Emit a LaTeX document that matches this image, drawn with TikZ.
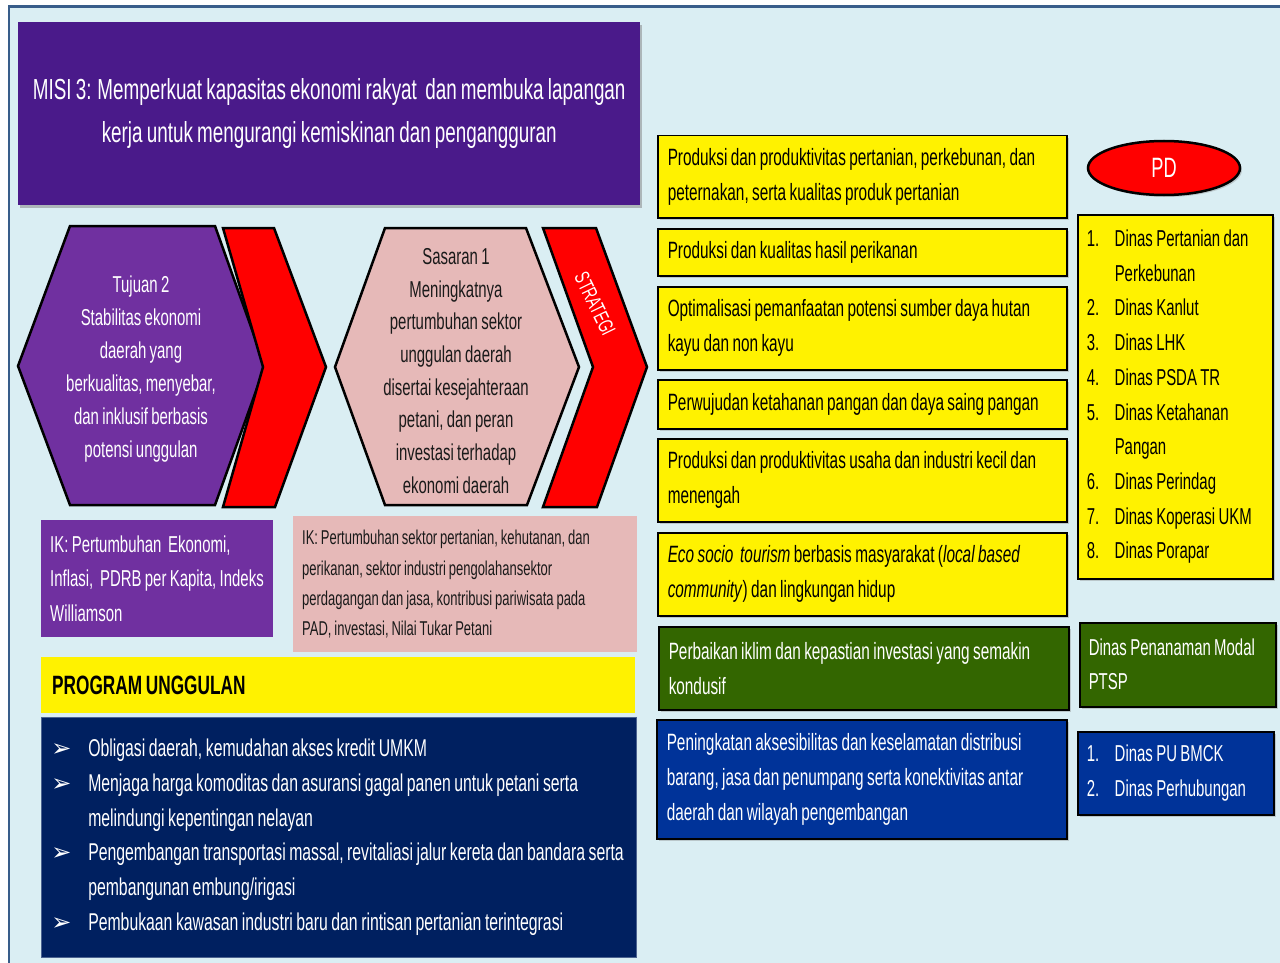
\documentclass[tikz,border=0pt]{standalone}
\usepackage{fontspec}
\setmainfont{Liberation Sans}[FakeStretch=0.65,WordSpace=0.8]
\newfontfamily\dejavu{DejaVu Sans}
\usetikzlibrary{shapes.geometric,shadows}
\definecolor{bgc}{HTML}{DAEEF3}
\definecolor{framec}{HTML}{385D8A}
\definecolor{titlec}{HTML}{4A1A8A}
\definecolor{tujuanc}{HTML}{7030A0}
\definecolor{pinkc}{HTML}{E6B9B8}
\definecolor{navyc}{HTML}{002060}
\definecolor{greenc}{HTML}{336600}
\definecolor{bluec}{HTML}{003399}
\definecolor{darktext}{HTML}{1A1A1A}
\newcommand\bul{\makebox[37pt][l]{\dejavu\fontsize{24}{24}\selectfont ➢}}
\newcommand\ind{\hspace*{37pt}}
\newcommand\num[1]{\makebox[28pt][l]{#1}}
\newcommand\nind{\hspace*{28pt}}
\begin{document}
\begin{tikzpicture}[x=1pt,y=-1pt,
  shape line/.style={draw=black,line width=2.5pt,line join=miter},
  boxsh/.style={drop shadow={opacity=0.35,shadow xshift=2pt,shadow yshift=-2pt}},
  strbox/.style={draw=black,line width=1.5pt,anchor=north west,align=flush left,inner xsep=10pt,inner ysep=0pt,boxsh},
  ybox/.style={strbox,fill=yellow,text=black},
  yfont/.style={font=\fontsize{23.6}{35}\selectfont},
  plain box/.style={anchor=north west,align=flush left,inner ysep=0pt}
]
\useasboundingbox (0,0) rectangle (1280,963);
\fill[white] (0,0) rectangle (1280,963);
\fill[bgc] (8,7) rectangle (1280,963);
\draw[framec,line width=3pt] (8,7) -- (1280,7);
\draw[framec,line width=1.5pt] (9,7) -- (9,963);

% title
\node[anchor=north west,fill=titlec,minimum width=622pt,minimum height=183pt,
  drop shadow={opacity=0.5,shadow xshift=2pt,shadow yshift=-3pt},
  text=white,align=center,font=\fontsize{29}{43}\selectfont] (title) at (18,22)
  {MISI 3: Memperkuat kapasitas ekonomi rakyat~ dan membuka lapangan\\kerja untuk mengurangi kemiskinan dan pengangguran};

% hexagons and chevrons
\draw[shape line,fill=tujuanc] (70,226) -- (215,226) -- (265,366) -- (215,505) -- (70,505) -- (18,366) -- cycle;
\draw[shape line,fill=red] (223,228) -- (274,228) -- (326,367) -- (275,507) -- (223,507) -- (263,367) -- cycle;
\draw[shape line,fill=pinkc] (385,228) -- (526,228) -- (579,367) -- (527,505) -- (385,505) -- (335,367) -- cycle;
\draw[shape line,fill=red] (543,228) -- (596,228) -- (647,367) -- (597,507) -- (543,507) -- (593,367) -- cycle;

\node[text=white,align=center,font=\fontsize{23}{33}\selectfont] (tujuan) at (141,369)
  {Tujuan 2\\Stabilitas ekonomi\\daerah yang\\berkualitas, menyebar,\\dan inklusif berbasis\\potensi unggulan};
\node[text=darktext,align=center,font=\fontsize{23}{32.7}\selectfont] (sasaran) at (456,371)
  {Sasaran 1\\Meningkatnya\\pertumbuhan sektor\\unggulan daerah\\disertai kesejahteraan\\petani, dan peran\\investasi terhadap\\ekonomi daerah};
\node[rotate=-64,text=white,inner sep=0pt,font=\fontsize{21}{21}\selectfont] (strategi) at (595,304) {STRATEGI};

% IK boxes
\node[plain box,fill=tujuanc,minimum width=232pt,minimum height=117pt,text width=214pt,inner xsep=9pt,
  text=white,font=\fontsize{23}{34.5}\selectfont] (ik1) at (41,520)
  {IK: Pertumbuhan~ Ekonomi,\\Inflasi,~ PDRB per Kapita, Indeks\\Williamson};
\node[plain box,fill=pinkc,minimum width=344pt,minimum height=136pt,text width=326pt,inner xsep=9pt,
  text=darktext,font=\fontsize{20}{30.3}\selectfont] (ik2) at (293,516)
  {IK: Pertumbuhan sektor pertanian, kehutanan, dan\\perikanan, sektor industri pengolahansektor\\perdagangan dan jasa, kontribusi pariwisata pada\\PAD, investasi, Nilai Tukar Petani};

% program unggulan
\node[plain box,fill=yellow,minimum width=594pt,minimum height=56pt,text width=572pt,inner xsep=11pt,
  text=black,font=\bfseries\fontsize{26.5}{28}\selectfont] (prog) at (41,657) {PROGRAM UNGGULAN};
\node[plain box,fill=navyc,draw=navyc!70!white,line width=0.5pt,minimum width=594pt,minimum height=240pt,text width=575pt,inner xsep=10pt,
  text=white,font=\fontsize{24.3}{34.8}\selectfont] (proglist) at (41,717)
  {\bul Obligasi daerah, kemudahan akses kredit UMKM\\
   \bul Menjaga harga komoditas dan asuransi gagal panen untuk petani serta\\
   \ind melindungi kepentingan nelayan\\
   \bul Pengembangan transportasi massal, revitaliasi jalur kereta dan bandara serta\\
   \ind pembangunan embung/irigasi\\
   \bul Pembukaan kawasan industri baru dan rintisan pertanian terintegrasi};

% strategy boxes
\node[ybox,yfont,minimum width=409pt,minimum height=82pt,text width=389pt] (s1) at (657,135)
  {Produksi dan produktivitas pertanian, perkebunan, dan\\peternakan, serta kualitas produk pertanian};
\node[ybox,yfont,minimum width=409pt,minimum height=47pt,text width=389pt] (s2) at (657,228)
  {Produksi dan kualitas hasil perikanan};
\node[ybox,yfont,minimum width=409pt,minimum height=83pt,text width=389pt] (s3) at (657,286)
  {Optimalisasi pemanfaatan potensi sumber daya hutan\\kayu dan non kayu};
\node[ybox,yfont,minimum width=409pt,minimum height=49pt,text width=389pt] (s4) at (657,379)
  {Perwujudan ketahanan pangan dan daya saing pangan};
\node[ybox,yfont,minimum width=409pt,minimum height=83pt,text width=389pt] (s5) at (657,438)
  {Produksi dan produktivitas usaha dan industri kecil dan\\menengah};
\node[ybox,yfont,minimum width=409pt,minimum height=83pt,text width=389pt] (s6) at (657,532)
  {\textit{Eco socio~ tourism} berbasis masyarakat (\textit{local based\\community}) dan lingkungan hidup};
\node[strbox,fill=greenc,text=white,yfont,minimum width=410pt,minimum height=83pt,text width=390pt] (s7) at (658,626)
  {Perbaikan iklim dan kepastian investasi yang semakin\\kondusif};
\node[strbox,fill=bluec,text=white,yfont,minimum width=410pt,minimum height=119pt,text width=390pt] (s8) at (656,719)
  {Peningkatan aksesibilitas dan keselamatan distribusi\\barang, jasa dan penumpang serta konektivitas antar\\daerah dan wilayah pengembangan};

% PD column
\node[ellipse,draw=black,line width=2.5pt,fill=red,minimum width=152pt,minimum height=54pt,
  text=white,font=\fontsize{28}{28}\selectfont,boxsh] (pd) at (1164,168) {PD};
\node[ybox,font=\fontsize{23}{34.7}\selectfont,minimum width=195pt,minimum height=364pt,text width=177pt,inner xsep=9pt] (pd1) at (1077,214)
  {\num{1.}Dinas Pertanian dan\\\nind Perkebunan\\\num{2.}Dinas Kanlut\\\num{3.}Dinas LHK\\\num{4.}Dinas PSDA TR\\
   \num{5.}Dinas Ketahanan\\\nind Pangan\\\num{6.}Dinas Perindag\\\num{7.}Dinas Koperasi UKM\\\num{8.}Dinas Porapar};
\node[strbox,fill=greenc,text=white,font=\fontsize{23}{34}\selectfont,minimum width=196pt,minimum height=84pt,text width=178pt,inner xsep=9pt] (pd2) at (1079,622)
  {Dinas Penanaman Modal\\PTSP};
\node[strbox,fill=bluec,text=white,font=\fontsize{23}{35}\selectfont,minimum width=196pt,minimum height=83pt,text width=178pt,inner xsep=9pt] (pd3) at (1077,731)
  {\num{1.}Dinas PU BMCK\\\num{2.}Dinas Perhubungan};
\end{tikzpicture}
\end{document}
